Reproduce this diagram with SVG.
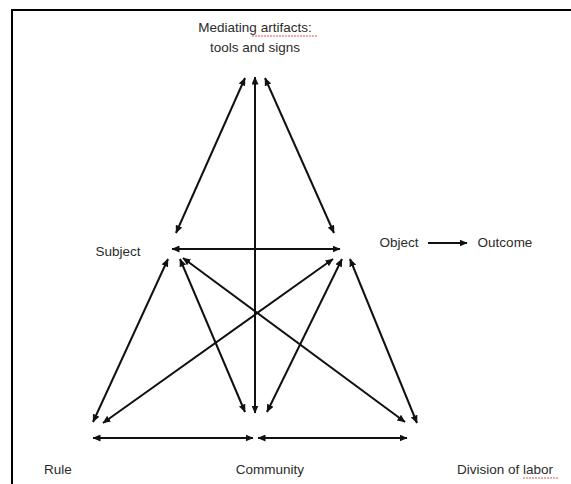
<svg xmlns="http://www.w3.org/2000/svg" width="571" height="484" viewBox="0 0 571 484">
<defs>
<style>
.t{font-family:"Liberation Sans",Arial,sans-serif;font-size:13.5px;fill:#2b2b2b}
.c{stroke:#111;stroke-width:2;fill:none;marker-start:url(#ah);marker-end:url(#ah)}
.s{stroke:#111;stroke-width:2;fill:none;marker-end:url(#ah)}
.sq{stroke:#e05050;stroke-width:1;fill:none;stroke-dasharray:2 1}
</style>
<marker id="ah" viewBox="0 0 8 7" refX="7.5" refY="3.5" markerWidth="8" markerHeight="7" markerUnits="userSpaceOnUse" orient="auto-start-reverse">
<path d="M0,0 L8,3.5 L0,7 z" fill="#111"/>
</marker>
</defs>
<rect width="571" height="484" fill="#fff"/>
<g id="frame">
<line x1="11" y1="10" x2="571" y2="10" stroke="#000" stroke-width="2"/>
<line x1="12" y1="10" x2="12" y2="484" stroke="#000" stroke-width="2"/>
</g>
<g id="connectors">
<line class="c" x1="245" y1="78" x2="176" y2="233"/>
<line class="c" x1="265" y1="78" x2="334" y2="233"/>
<line class="c" x1="255" y1="77" x2="255" y2="413"/>
<line class="c" x1="172" y1="249" x2="340" y2="249"/>
<line class="c" x1="168" y1="259" x2="93" y2="422"/>
<line class="c" x1="180" y1="259" x2="245" y2="412"/>
<line class="c" x1="183" y1="258" x2="405" y2="422"/>
<line class="c" x1="333" y1="259" x2="103" y2="423"/>
<line class="c" x1="342" y1="259" x2="267" y2="412"/>
<line class="c" x1="350" y1="259" x2="417" y2="423"/>
<line class="c" x1="93" y1="438" x2="253" y2="438"/>
<line class="c" x1="258" y1="438" x2="407" y2="438"/>
<line class="s" x1="428" y1="243" x2="467" y2="243"/>
</g>
<g id="mediating">
<text class="t" x="255" y="32" text-anchor="middle">Mediating artifacts:</text>
<text class="t" x="255" y="52" text-anchor="middle">tools and signs</text>
<path class="sq" d="M252,36 L318,36"/>
</g>
<g id="subject"><text class="t" x="118" y="256" text-anchor="middle">Subject</text></g>
<g id="object"><text class="t" x="399" y="247" text-anchor="middle">Object</text></g>
<g id="outcome"><text class="t" x="505" y="247" text-anchor="middle">Outcome</text></g>
<g id="rule"><text class="t" x="58" y="474" text-anchor="middle">Rule</text></g>
<g id="community"><text class="t" x="270" y="474" text-anchor="middle">Community</text></g>
<g id="division"><text class="t" x="505" y="474" text-anchor="middle">Division of labor</text>
<path class="sq" d="M523,478 L558,478"/></g>
</svg>
